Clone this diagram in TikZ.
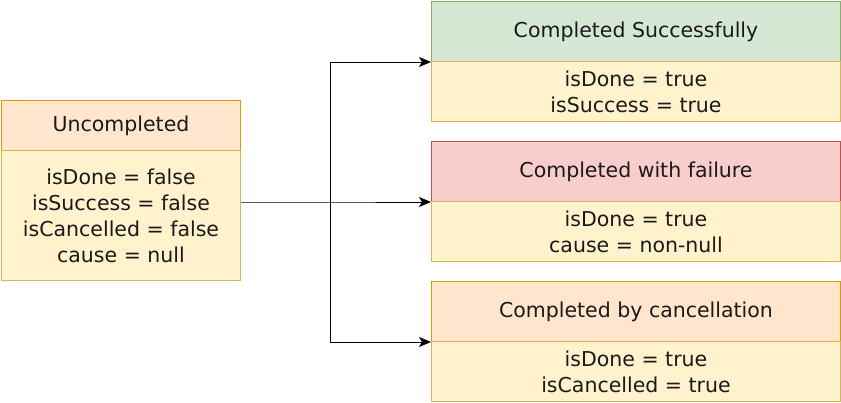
\documentclass[tikz,border=0pt]{standalone}
\usepackage{fontspec}
\setmainfont{DejaVu Sans}
\usetikzlibrary{arrows.meta}
\definecolor{orfill}{HTML}{FFE6CC}
\definecolor{ordraw}{HTML}{D79B00}
\definecolor{yefill}{HTML}{FFF2CC}
\definecolor{yedraw}{HTML}{D6B656}
\definecolor{grfill}{HTML}{D5E8D4}
\definecolor{grdraw}{HTML}{82B366}
\definecolor{rdfill}{HTML}{F8CECC}
\definecolor{rddraw}{HTML}{B85450}
\definecolor{txt}{HTML}{1A1A1A}
\begin{document}
\begin{tikzpicture}[x=1pt,y=-1pt,
  cell/.style={draw, line width=1pt, anchor=north west, inner sep=0pt, align=center, text=txt,
    font=\fontsize{20.5}{26}\selectfont},
  orhead/.style={cell, fill=orfill, draw=ordraw},
  grhead/.style={cell, fill=grfill, draw=grdraw},
  rdhead/.style={cell, fill=rdfill, draw=rddraw},
  body/.style={cell, fill=yefill, draw=yedraw},
  leftcell/.style={minimum width=239pt},
  rightcell/.style={minimum width=409pt, minimum height=60pt},
  arr/.style={draw=black, line width=1pt, -{Stealth[length=12pt,width=10pt,inset=3pt]}}
]
\useasboundingbox (0,0) rectangle (841,402);

% left box
\node[orhead, leftcell, minimum height=50pt] (uh) at (1,100) {Uncompleted};
\node[body, leftcell, minimum height=130pt] (ub) at (1,150) {isDone = false\\isSuccess = false\\isCancelled = false\\cause = null};

% right boxes
\node[grhead, rightcell] (sh) at (431,1) {Completed Successfully};
\node[body, rightcell] (sb) at (431,61) {isDone = true\\isSuccess = true};

\node[rdhead, rightcell] (fh) at (431,141) {Completed with failure};
\node[body, rightcell] (fb) at (431,201) {isDone = true\\cause = non-null};

\node[orhead, rightcell] (ch) at (431,281) {Completed by cancellation};
\node[body, rightcell] (cb) at (431,341) {isDone = true\\isCancelled = true};

% connectors
\coordinate (start) at (ub.east |- fh.south west);
\coordinate (j) at (330,0 |- fh.south west);
\draw[arr] (start) -- (j) -- (fh.south west);
\draw[arr] (j) |- (sh.south west);
\draw[arr] (j) |- (ch.south west);
\end{tikzpicture}
\end{document}
